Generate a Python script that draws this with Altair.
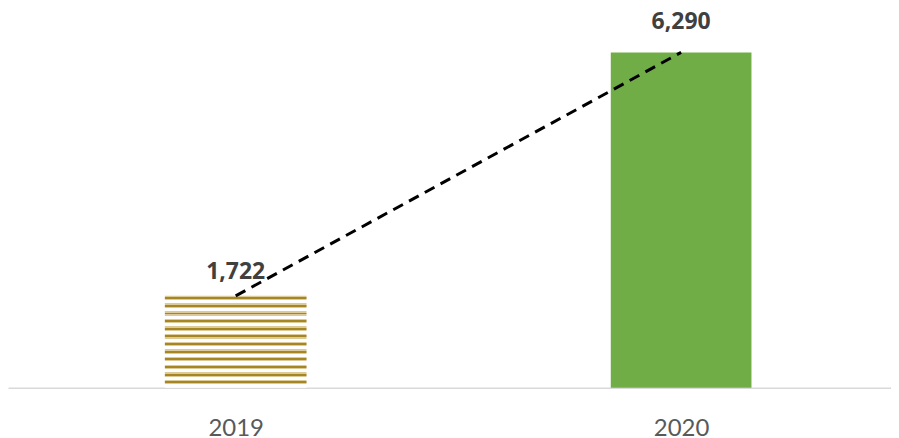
import altair as alt
import pandas as pd

years = [2019, 2020]
values = [1722, 6290]

df = pd.DataFrame({"year": years, "value": values})

x_enc = alt.X("year:Q", scale=alt.Scale(domain=[2018.5, 2020.46], nice=False, zero=False),
              axis=alt.Axis(values=years, format="d", title=None, grid=False, ticks=False,
                            labelFontSize=24, labelFont="Lato", labelColor="#595959",
                            labelPadding=41, labelBaseline="middle",
                            domainColor="#d9d9d9", domainWidth=1.5))
y_enc = alt.Y("value:Q", scale=alt.Scale(domain=[0, 7001], nice=False), axis=None)

# horizontal stripe approximation of the wavy pattern for the first bar
stops = []
n = 12
bands = [(0.0, 0.18, "#dccb98"), (0.18, 0.42, "#a68523"), (0.42, 0.58, "#dccb98"), (0.58, 1.0, "white")]
for i in range(n):
    for s, e, col in bands:
        stops += [alt.GradientStop(offset=(i + s) / n, color=col),
                  alt.GradientStop(offset=(i + e) / n, color=col)]
pattern = alt.Gradient(gradient="linear", stops=stops, x1=0, x2=0, y1=0, y2=1)

base = alt.Chart(df)

bar1 = base.transform_filter("datum.year == 2019").mark_bar(size=142, color=pattern).encode(x=x_enc, y=y_enc)
bar2 = base.transform_filter("datum.year == 2020").mark_bar(size=141, color="#70ad47").encode(x=x_enc, y=y_enc)

line = base.mark_line(color="black", strokeWidth=3, strokeDash=[11, 7]).encode(x=x_enc, y=y_enc)

txt_kw = dict(font="Open Sans", fontWeight="bold", fontSize=23, color="#404040", baseline="middle")
text1 = base.transform_filter("datum.year == 2019").mark_text(dy=-24, **txt_kw).encode(
    x=x_enc, y=y_enc, text=alt.Text("value:Q", format=","))
text2 = base.transform_filter("datum.year == 2020").mark_text(dy=-30, **txt_kw).encode(
    x=x_enc, y=y_enc, text=alt.Text("value:Q", format=","))

chart = alt.layer(bar1, bar2, line, text1, text2).properties(
    width=885, height=374,
    autosize=alt.AutoSizeParams(type="none"),
    padding={"left": 0, "top": 6, "right": 0, "bottom": 56},
    background="white",
).configure_view(stroke=None)

chart.save("out.html", embed_options={"renderer": "svg", "actions": False})
